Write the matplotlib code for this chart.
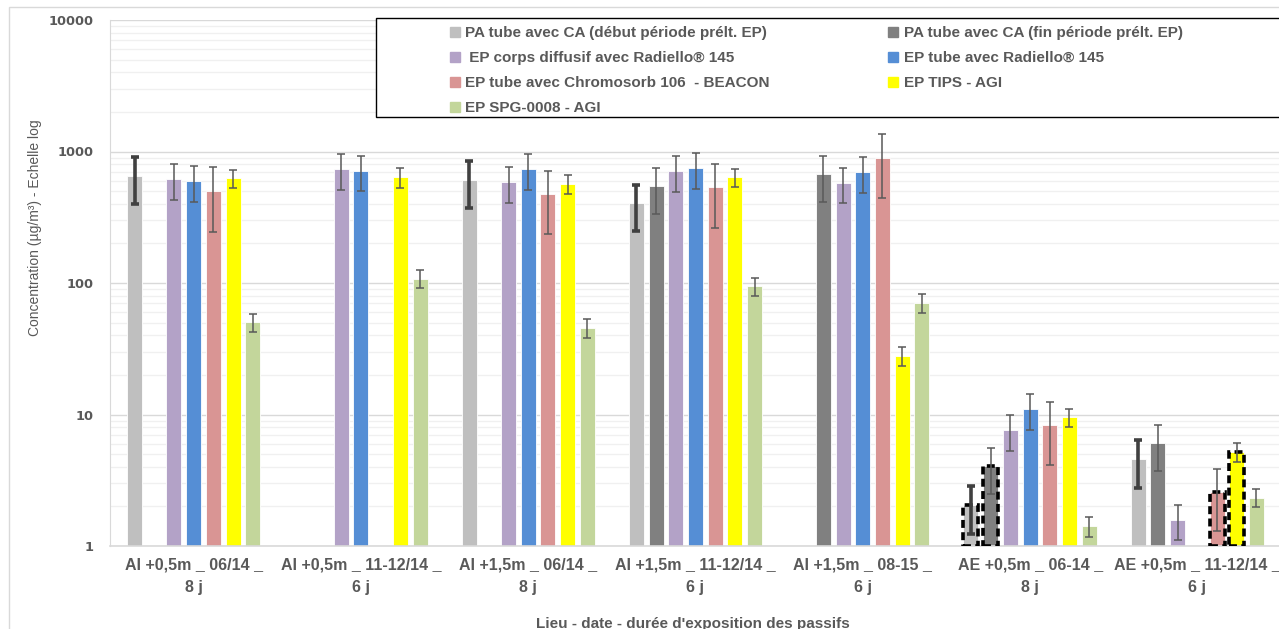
import numpy as np
import matplotlib
matplotlib.use('Agg')
import matplotlib.pyplot as plt
from matplotlib.lines import Line2D
from matplotlib.patches import Rectangle
from matplotlib.ticker import LogLocator, NullFormatter, FixedLocator

plt.rcParams['font.family'] = ['Liberation Sans Narrow', 'Liberation Sans', 'DejaVu Sans']

groups = ['AI +0,5m _ 06/14 _\n8 j', 'AI +0,5m _ 11-12/14 _\n6 j', 'AI +1,5m _ 06/14 _\n8 j',
          'AI +1,5m _ 11-12/14 _\n6 j', 'AI +1,5m _ 08-15 _\n6 j', 'AE +0,5m _ 06-14 _\n8 j',
          'AE +0,5m _ 11-12/14 _\n6 j']

series = ['PA tube avec CA (début période prélt. EP)', 'PA tube avec CA (fin période prélt. EP)',
          ' EP corps diffusif avec Radiello® 145', 'EP tube avec Radiello® 145',
          'EP tube avec Chromosorb 106  - BEACON', 'EP TIPS - AGI', 'EP SPG-0008 - AGI']
colors = ['#bfbfbf', '#808080', '#b3a2c7', '#558ed5', '#d99594', '#ffff00', '#c3d69b']

nan = np.nan
# one row per series, one column per group
vals = np.array([
    [655, nan, 607, 404, nan, 2.04, 4.56],
    [nan, nan, nan, 543, 670, 4.04, 6.04],
    [615, 731, 584, 707, 579, 7.62, 1.58],
    [593, 714, 736, 745, 694, 10.96, nan],
    [501, nan, 472, 534, 897, 8.32, 2.57],
    [629, 637, 569, 637, 27.9, 9.52, 5.21],
    [50.5, 108, 45.7, 94.9, 70.5, 1.41, 2.33],
])
errs = np.array([
    [255, nan, 237, 156, nan, 0.8, 1.8],
    [nan, nan, nan, 208, 257, 1.56, 2.3],
    [190, 218, 180, 214, 175, 2.3, 0.47],
    [180, 214, 225, 224, 210, 3.3, nan],
    [255, nan, 238, 272, 457, 4.2, 1.26],
    [97, 107, 92, 100, 4.6, 1.5, 0.86],
    [7.8, 17, 7.5, 15, 11.3, 0.24, 0.36],
])
# (series, group) results below the quantification limit, drawn with dashed outline
below_lq = [(0, 5), (1, 5), (4, 6), (5, 6)]

W, H = 1279, 629
fig = plt.figure(figsize=(W / 100, H / 100), dpi=100)
ax = fig.add_axes([110 / W, 1 - 546 / H, 1171 / W, 526 / H])

pitch = 0.1178
bw = 0.09
x = np.arange(len(groups))
for j in range(len(series)):
    xs = x + (j - 3) * pitch
    ax.bar(xs, vals[j] - 1, bw, bottom=1, color=colors[j], edgecolor='white', linewidth=0.6, zorder=2)
    if j == 0:
        ax.errorbar(xs, vals[j], yerr=errs[j], fmt='none', ecolor='#404040', elinewidth=2.6,
                    capsize=3, capthick=2.6, zorder=4)
    else:
        ax.errorbar(xs, vals[j], yerr=errs[j], fmt='none', ecolor='#595959', elinewidth=1.1,
                    capsize=3, capthick=1.1, zorder=4)

for j, g in below_lq:
    ax.bar(x[g] + (j - 3) * pitch, vals[j, g] - 1, bw, bottom=1, fill=False, edgecolor='black',
           linewidth=2.6, linestyle=(0, (2.2, 1.2)), zorder=3)

ax.set_yscale('log')
ax.set_ylim(1, 10000)
ax.set_xlim(-0.5, len(groups) - 0.5)
ax.yaxis.set_major_locator(FixedLocator([1, 10, 100, 1000, 10000]))
ax.set_yticklabels(['1', '10', '100', '1000', '10000'])
ax.yaxis.set_minor_locator(LogLocator(base=10, subs=np.arange(2, 10)))
ax.yaxis.set_minor_formatter(NullFormatter())
ax.grid(True, axis='y', which='major', color='#d9d9d9', linewidth=1, zorder=0)
ax.grid(True, axis='y', which='minor', color='#f0f0f0', linewidth=1, zorder=0)
ax.set_axisbelow(True)

ax.set_xticks(x)
ax.set_xticklabels(groups, fontsize=11.5, fontweight='bold', color='#595959', linespacing=1.65)
ax.tick_params(axis='x', length=0, pad=8)
ax.tick_params(axis='y', which='both', length=0, pad=12, labelcolor='#595959')
for lab in ax.get_yticklabels():
    lab.set_fontweight('bold')
    lab.set_family(['DejaVu Sans'])
    lab.set_fontsize(9.3)

for s in ['top', 'right']:
    ax.spines[s].set_visible(False)
ax.spines['left'].set_color('#d9d9d9')
ax.spines['bottom'].set_color('#d9d9d9')
ax.spines['bottom'].set_linewidth(1.2)

fig.text(35 / W, 1 - 228 / H, 'Concentration (µg/m³) - Echelle log', rotation=90,
         ha='center', va='center', fontsize=10, color='#595959')
fig.text(693 / W, 1 - 624 / H, "Lieu - date - durée d'exposition des passifs",
         ha='center', va='center', fontsize=11, fontweight='bold', color='#595959')

# chart area border
fig.patches.append(Rectangle((9 / W, -0.05), 1.1, 1.05 - 7 / H, transform=fig.transFigure,
                             fill=False, edgecolor='#d9d9d9', linewidth=1))

# legend
order = [0, 2, 4, 6, 1, 3, 5]
handles = [Line2D([], [], marker='s', linestyle='none', markersize=7, markerfacecolor=colors[j],
                  markeredgecolor=colors[j]) for j in order]
leg = fig.legend(handles, [series[j] for j in order], ncol=2, loc='upper left',
                 bbox_to_anchor=(444 / W, 1 - 20 / H), frameon=False,
                 prop={'size': 11, 'weight': 'bold'}, handlelength=0.6, handletextpad=0.4,
                 columnspacing=7.75, labelspacing=0.72, borderaxespad=0)
for t in leg.get_texts():
    t.set_color('#595959')
fig.patches.append(Rectangle((376 / W, 1 - 117 / H), 904 / W, 99 / H, transform=fig.transFigure,
                             fill=True, facecolor='white', edgecolor='black', linewidth=1, zorder=5))
leg.set_zorder(6)

fig.savefig('out.png', dpi=100)
